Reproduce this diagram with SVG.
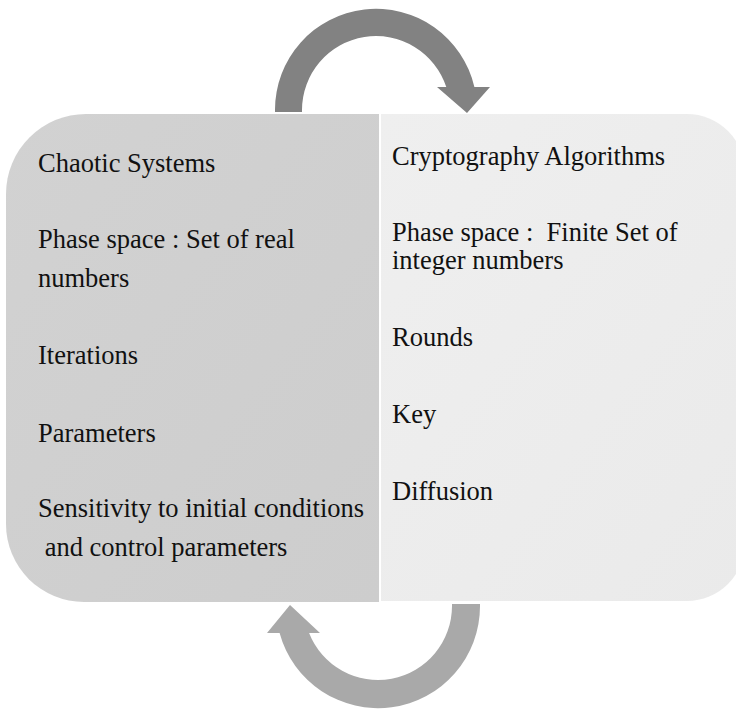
<svg xmlns="http://www.w3.org/2000/svg" width="736" height="709" viewBox="0 0 736 709">
<defs>
<style>
.t{font-family:"Liberation Serif","DejaVu Serif",serif;font-size:26.5px;fill:#111;white-space:pre}
</style>
<linearGradient id="gl" x1="0" y1="0" x2="1" y2="1">
<stop offset="0" stop-color="#d2d2d2"/>
<stop offset="1" stop-color="#cdcdcd"/>
</linearGradient>
<linearGradient id="gr" x1="0" y1="0" x2="1" y2="1">
<stop offset="0" stop-color="#efefef"/>
<stop offset="1" stop-color="#eaeaea"/>
</linearGradient>
</defs>
<rect width="736" height="709" fill="#fff"/>
<g id="connectors">
<path id="arrow-top" fill="#828282" d="M275,112 L275,110 A101,101 0 0 1 474.4,87 L490,87 L467,113 L437,87 L446.3,87 A74,74 0 0 0 302,110 L302,112 Z"/>
<path id="arrow-bottom" fill="#a9a9a9" d="M480,604 L480,606 A102,102 0 0 1 279.6,633 L267,633 L290,605 L320,633 L309.1,633 A74,74 0 0 0 452,606 L452,604 Z"/>
</g>
<g id="node-chaotic">
<path fill="url(#gl)" d="M86,114 L379,114 L379,602 L84,602 A78,78 0 0 1 6,524 L6,194 A80,80 0 0 1 86,114 Z"/>
<text class="t" x="38" y="172">Chaotic Systems</text>
<text class="t" x="38" y="248">Phase space : Set of real</text>
<text class="t" x="38" y="287">numbers</text>
<text class="t" x="38" y="364">Iterations</text>
<text class="t" x="38" y="442">Parameters</text>
<text class="t" x="38" y="517">Sensitivity to initial conditions</text>
<text class="t" x="38" y="556"> and control parameters</text>
</g>
<g id="node-crypto">
<path fill="url(#gr)" d="M381,114 L687,114 A58,58 0 0 1 745,172 L745,543 A58,58 0 0 1 687,601 L381,601 Z"/>
<text class="t" x="392" y="165">Cryptography Algorithms</text>
<text class="t" x="392" y="241">Phase space :  Finite Set of</text>
<text class="t" x="392" y="269">integer numbers</text>
<text class="t" x="392" y="346">Rounds</text>
<text class="t" x="392" y="423">Key</text>
<text class="t" x="392" y="500">Diffusion</text>
</g>
</svg>
